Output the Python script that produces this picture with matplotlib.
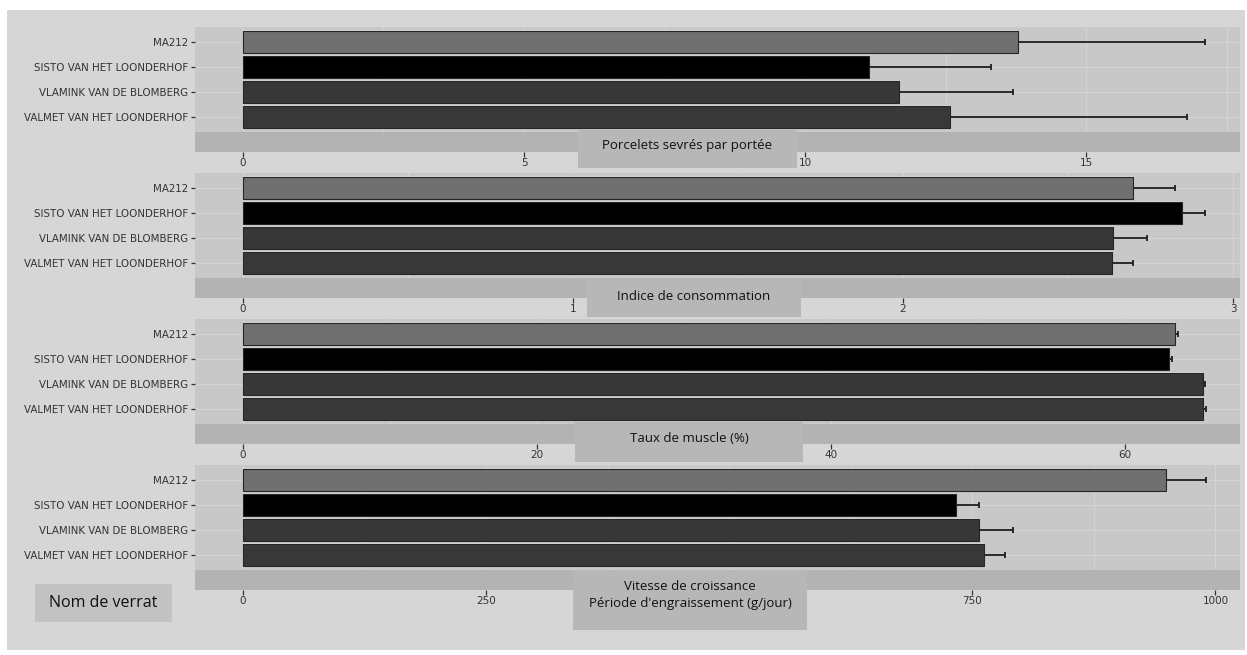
import matplotlib.pyplot as plt
from matplotlib.patches import Rectangle

# boars, top to bottom
verrats = ['MA212', 'SISTO VAN HET LOONDERHOF', 'VLAMINK VAN DE BLOMBERG', 'VALMET VAN HET LOONDERHOF']
couleurs = ['#707070', '#000000', '#373737', '#383838']

# one entry per facet: means and standard deviations
porcelets = [13.79, 11.14, 11.67, 12.58]
porcelets_sd = [3.33, 2.17, 2.03, 4.22]
indice = [2.697, 2.845, 2.636, 2.633]
indice_sd = [0.127, 0.07, 0.103, 0.064]
muscle = [63.4, 63.0, 65.3, 65.3]
muscle_sd = [0.15, 0.15, 0.15, 0.2]
vitesse = [949, 733, 757, 762]
vitesse_sd = [41, 24, 35, 22]

titres = ['Porcelets sevrés par portée', 'Indice de consommation', 'Taux de muscle (%)',
          'Vitesse de croissance\nPériode d\'engraissement (g/jour)']
ticks = [[0, 5, 10, 15], [0, 1, 2, 3], [0, 20, 40, 60], [0, 250, 500, 750, 1000]]
# the 500 label sits under the facet title box
tick_labels = [['0', '5', '10', '15'], ['0', '1', '2', '3'], ['0', '20', '40', '60'],
               ['0', '250', '', '750', '1000']]
minor = [[2.5, 7.5, 12.5, 17.5], [0.5, 1.5, 2.5], [10, 30, 50], [125, 375, 625, 875]]
limits = [(-0.854, 17.74), (-0.1455, 3.021), (-3.27, 67.8), (-49.4, 1025.3)]
values = [porcelets, indice, muscle, vitesse]
errors = [porcelets_sd, indice_sd, muscle_sd, vitesse_sd]

W, H = 1247, 655
fig = plt.figure(figsize=(W / 100, H / 100), dpi=100)
fig.patch.set_facecolor('white')
fig.add_artist(Rectangle((7 / W, 1 - 650 / H), 1238 / W, 640 / H, transform=fig.transFigure,
                         facecolor='#d6d6d6', edgecolor='none', zorder=0))

tops = [27, 173, 319, 465]
# label boxes: x0, x1, y0, y1 in pixels
boxes = [(578, 797, 130, 168), (587, 801, 280, 317), (575, 803, 422, 462), (573, 807, 570, 630)]
ypos = list(range(len(verrats)))

for i in range(4):
    top = tops[i]
    ax = fig.add_axes([195 / W, 1 - (top + 125) / H, 1045 / W, 125 / H])
    ax.set_facecolor('#c8c8c8')
    ax.set_xlim(*limits[i])
    ax.set_ylim(4.4, -0.6)
    ax.axhspan(3.6, 4.4, color='#b3b3b3', zorder=3, lw=0)

    ax.errorbar(values[i], ypos, xerr=errors[i], fmt='none', ecolor='#1e1e1e',
                elinewidth=1.3, capsize=2.5, capthick=1.3, zorder=2)
    ax.barh(ypos, values[i], height=0.98, color='#d9d9d9', lw=0, zorder=1.5)
    ax.barh(ypos, values[i], height=0.9, color=couleurs, edgecolor='#262626', lw=0.8, zorder=2.5)

    ax.set_xticks(ticks[i])
    ax.set_xticklabels(tick_labels[i])
    ax.set_xticks(minor[i], minor=True)
    ax.set_yticks(ypos)
    ax.set_yticklabels(verrats)
    ax.grid(True, which='both', axis='x', color='#d4d4d4', lw=0.8, zorder=0)
    ax.grid(True, axis='y', color='#d4d4d4', lw=0.8, zorder=0)
    ax.set_axisbelow(True)
    for s in ax.spines.values():
        s.set_visible(False)
    ax.tick_params(axis='x', which='minor', length=0)
    ax.tick_params(axis='x', length=3.5, width=0.9, color='#333333', labelsize=7.5,
                   labelcolor='#333333', pad=1)
    ax.tick_params(axis='y', length=3, width=0.9, color='#333333', labelsize=7.4,
                   labelcolor='#333333', pad=2)

    x0, x1, y0, y1 = boxes[i]
    fig.add_artist(Rectangle((x0 / W, 1 - y1 / H), (x1 - x0) / W, (y1 - y0) / H,
                             transform=fig.transFigure, facecolor='#b7b7b7',
                             edgecolor='none', zorder=5))
    ty = (y0 + 16) if i < 3 else (y0 + 25)
    fig.text((x0 + x1) / 2 / W, 1 - ty / H, titres[i], ha='center', va='center',
             fontsize=9.5, family='Open Sans', color='#111111', linespacing=1.45, zorder=6)

fig.add_artist(Rectangle((35 / W, 1 - 622 / H), 137 / W, 38 / H, transform=fig.transFigure,
                         facecolor='#c2c2c2', edgecolor='none', zorder=5))
fig.text(103.5 / W, 1 - 603 / H, 'Nom de verrat', ha='center', va='center',
         fontsize=11.5, family='Open Sans', color='#111111', zorder=6)

fig.savefig('out.png', dpi=100)
